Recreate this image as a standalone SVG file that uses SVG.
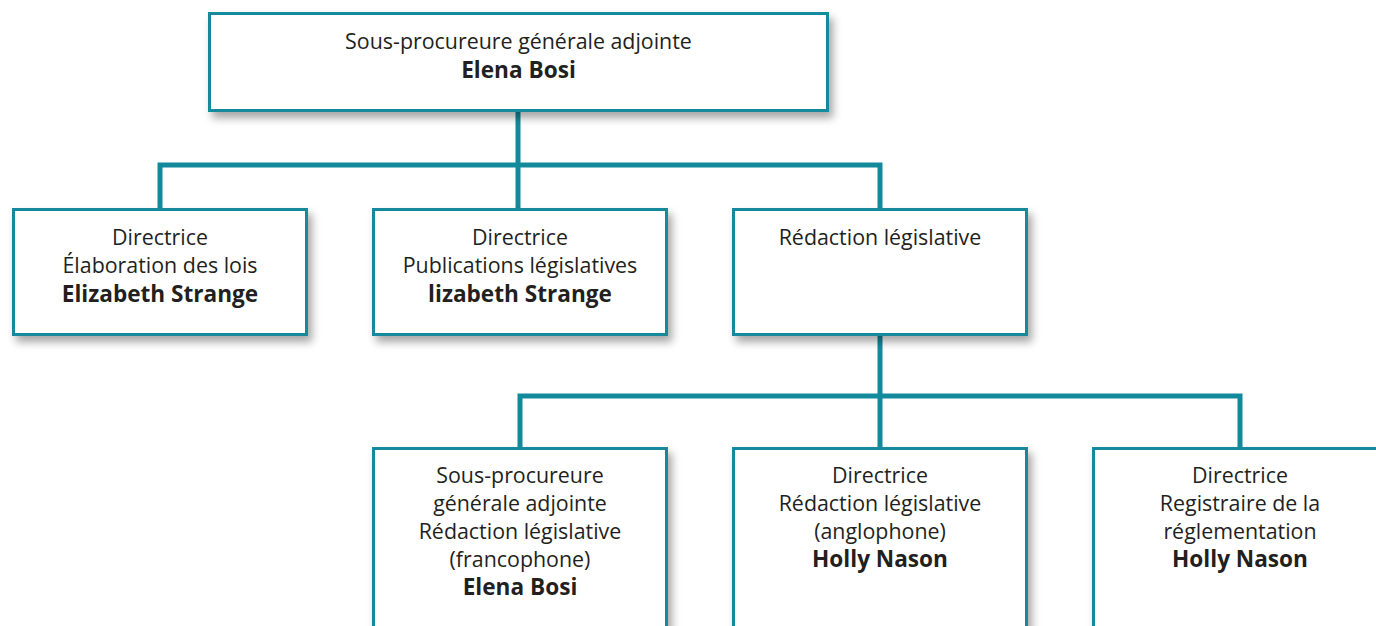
<svg xmlns="http://www.w3.org/2000/svg" width="1376" height="626" viewBox="0 0 1376 626">
<defs>
<filter id="sh" x="-10%" y="-10%" width="130%" height="140%">
<feDropShadow dx="4" dy="6" stdDeviation="4" flood-color="#000" flood-opacity="0.35"/>
</filter>
</defs>
<style>
.box{fill:#fff;stroke:#138a9c;stroke-width:3;filter:url(#sh)}
.con{fill:none;stroke:#138a9c;stroke-width:5}
text{font-family:"Open Sans","Liberation Sans",sans-serif;font-size:21.4px;fill:#231f20;text-anchor:middle}
.b{font-weight:bold;font-size:22.6px}
</style>
<rect width="1376" height="626" fill="#fff"/>
<g id="connectors">
<path class="con" d="M518 111V165M160 209V165H880V209M518 165V209M880 335V396M520 448V396H1240V448M880 396V448"/>
</g>
<g id="n-top">
<rect class="box" x="209.5" y="13.5" width="618" height="97"/>
<text x="518.5" y="49">Sous-procureure générale adjointe</text>
<text x="518.5" y="78" class="b">Elena Bosi</text>
</g>
<g id="n-elab">
<rect class="box" x="13.5" y="209.5" width="293" height="125"/>
<text x="160" y="245">Directrice</text>
<text x="160" y="273">Élaboration des lois</text>
<text x="160" y="302" class="b">Elizabeth Strange</text>
</g>
<g id="n-pub">
<rect class="box" x="373.5" y="209.5" width="293" height="125"/>
<text x="520" y="245">Directrice</text>
<text x="520" y="273">Publications législatives</text>
<text x="520" y="302" class="b">lizabeth Strange</text>
</g>
<g id="n-red">
<rect class="box" x="733.5" y="209.5" width="293" height="125"/>
<text x="880" y="245">Rédaction législative</text>
</g>
<g id="n-franco">
<rect class="box" x="373.5" y="448.5" width="293" height="200"/>
<text x="520" y="483">Sous-procureure</text>
<text x="520" y="511">générale adjointe</text>
<text x="520" y="539">Rédaction législative</text>
<text x="520" y="567">(francophone)</text>
<text x="520" y="595" class="b">Elena Bosi</text>
</g>
<g id="n-anglo">
<rect class="box" x="733.5" y="448.5" width="293" height="200"/>
<text x="880" y="483">Directrice</text>
<text x="880" y="511">Rédaction législative</text>
<text x="880" y="539">(anglophone)</text>
<text x="880" y="567" class="b">Holly Nason</text>
</g>
<g id="n-reg">
<rect class="box" x="1093.5" y="448.5" width="293" height="200"/>
<text x="1240" y="483">Directrice</text>
<text x="1240" y="511">Registraire de la</text>
<text x="1240" y="539">réglementation</text>
<text x="1240" y="567" class="b">Holly Nason</text>
</g>
</svg>
